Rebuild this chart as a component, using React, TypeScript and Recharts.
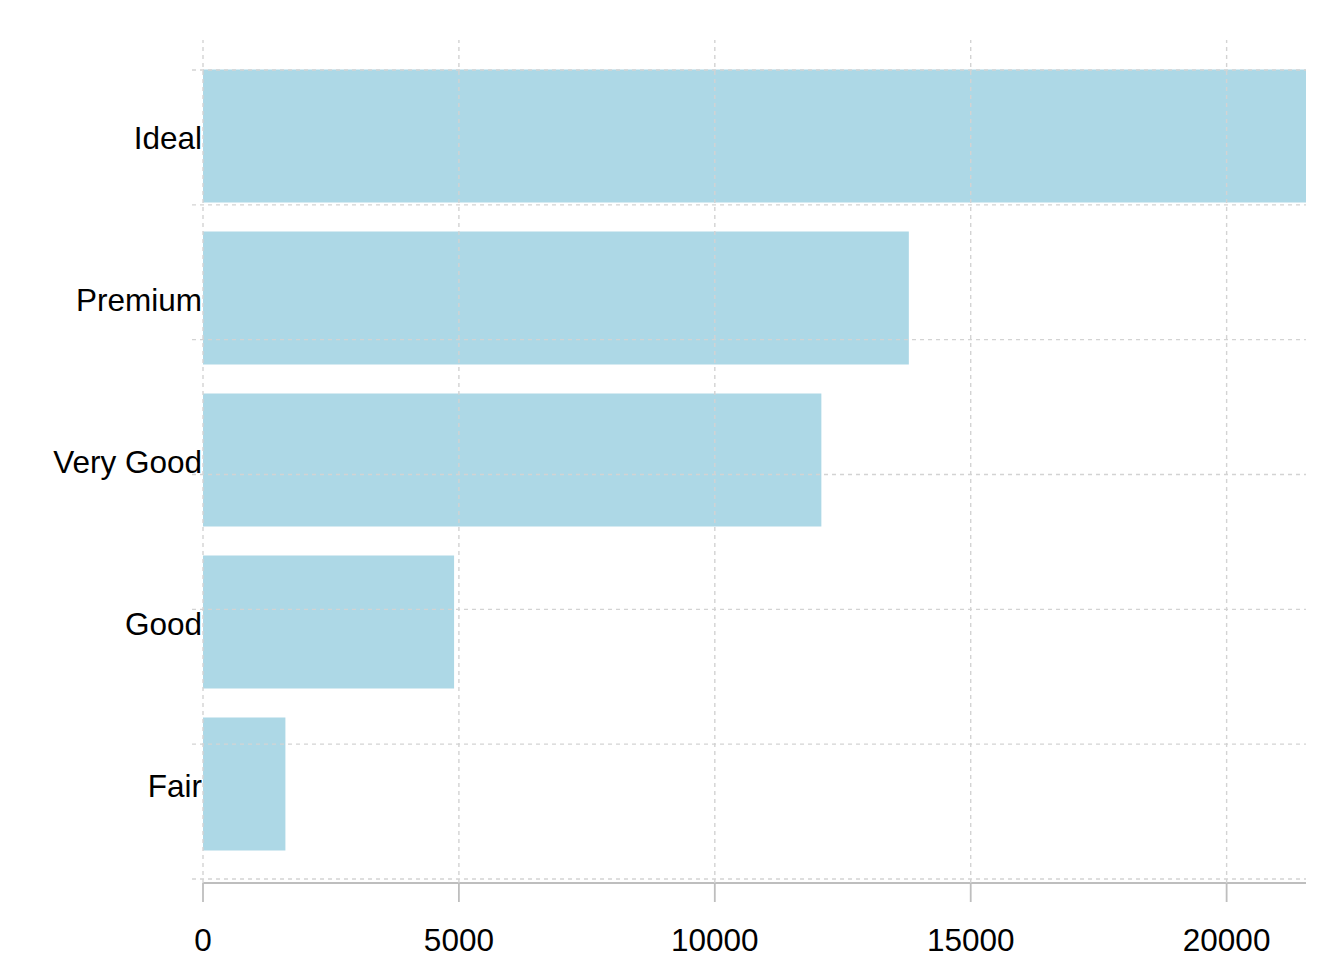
import React from "react";
import { BarChart, ComposedChart, Bar, XAxis, YAxis, ReferenceLine } from "recharts";

const cuts = ["Ideal", "Premium", "Very Good", "Good", "Fair"];
const counts = [21551, 13791, 12082, 4906, 1610];
const xTicks = [0, 5000, 10000, 15000, 20000];
const gridTicks = [0, 1, 2, 3, 4, 5, 6];

const data = cuts.map((cut, i) => ({ cut, count: counts[i] }));
const gridData = gridTicks.map((g) => ({ g }));

const FONT = "'Liberation Sans', Arial, Helvetica, sans-serif";
const GRID = "#d3d3d3";
const W = 1344;
const H = 960;
const MARGIN = { top: 40, right: 38, bottom: 0, left: 0 };

const hLineShape = (props: any) => {
  const { x1, x2, y1, y2 } = props;
  return (
    <line
      x1={Math.min(x1, x2) - 11}
      x2={Math.max(x1, x2)}
      y1={y1}
      y2={y2}
      stroke={GRID}
      strokeWidth={1.4}
      strokeDasharray="4 4"
    />
  );
};

export default function App() {
  return (
    <div style={{ position: "absolute", left: 0, top: 0, width: W, height: H, background: "#fff" }}>
      <div style={{ position: "absolute", left: 0, top: 0 }}>
        <BarChart
          width={W}
          height={H}
          data={data}
          layout="vertical"
          margin={MARGIN}
          barCategoryGap="9%"
        >
          <XAxis
            type="number"
            dataKey="count"
            domain={[0, 21551]}
            ticks={xTicks}
            allowDataOverflow
            height={77}
            tickSize={19}
            tickMargin={27}
            axisLine={{ stroke: "#bebebe", strokeWidth: 1.8 }}
            tickLine={{ stroke: "#bebebe", strokeWidth: 1.8 }}
            tick={{ fill: "#000", fontSize: 31.5, fontFamily: FONT }}
          />
          <YAxis
            type="category"
            dataKey="cut"
            width={203}
            padding={{ top: 15, bottom: 18 }}
            axisLine={false}
            tickLine={false}
            tickSize={0}
            tickMargin={1}
            tick={{ fill: "#000", fontSize: 31.5, fontFamily: FONT, dy: 1.5 } as any}
          />
          <Bar dataKey="count" fill="#ADD8E6" isAnimationActive={false} />
        </BarChart>
      </div>
      <div style={{ position: "absolute", left: 0, top: 0, pointerEvents: "none" }}>
        <ComposedChart
          width={W}
          height={H}
          data={gridData}
          margin={{ top: 40, right: 38, bottom: 77, left: 203 }}
        >
          <XAxis type="number" dataKey="g" domain={[0, 21551]} allowDataOverflow hide />
          <YAxis
            type="number"
            dataKey="g"
            domain={[0, 6]}
            ticks={gridTicks}
            padding={{ top: 30, bottom: 4 }}
            allowDataOverflow
            hide
          />
          {xTicks.map((t) => (
            <ReferenceLine
              key={"v" + t}
              x={t}
              stroke={GRID}
              strokeWidth={1.4}
              strokeDasharray="4 4"
            />
          ))}
          {gridTicks.map((t) => (
            <ReferenceLine
              key={"h" + t}
              y={t}
              ifOverflow="visible"
              shape={hLineShape}
            />
          ))}
        </ComposedChart>
      </div>
    </div>
  );
}
